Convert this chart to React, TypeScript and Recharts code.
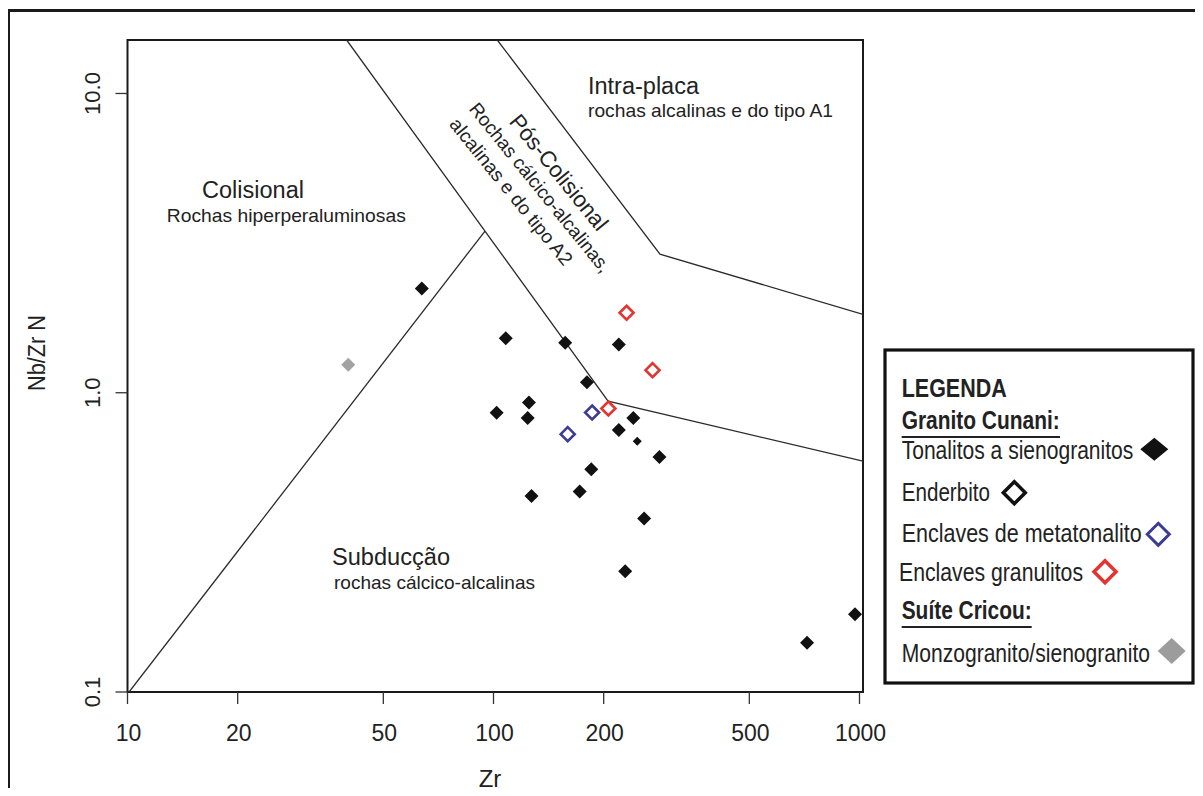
import React from 'react'
import { ScatterChart, Scatter, XAxis, YAxis, ReferenceArea } from 'recharts'

// Zr (ppm) vs Nb/Zr N, both log
const X_TICKS = [10, 20, 50, 100, 200, 500, 1000]
const Y_TICKS = [0.1, 1, 10]
const X_MAX = 1022.3
const Y_MAX = 15.09

// samples [Zr, Nb/Zr N]
const tonalitos: [number, number][] = [
  [63.7, 2.23], [108, 1.52], [157, 1.47], [220, 1.45], [180, 1.085],
  [125, 0.928], [102, 0.857], [124, 0.824], [241, 0.824], [220, 0.751],
  [284, 0.61], [185, 0.555], [127, 0.452], [172, 0.468], [258, 0.38],
  [229, 0.253], [719, 0.146], [972, 0.182],
]
const tonalitosMinor: [number, number][] = [[247, 0.688]]
const granulitos: [number, number][] = [[231, 1.85], [272, 1.19], [206, 0.886]]
const metatonalito: [number, number][] = [[186, 0.859], [159.5, 0.727]]
const cricou: [number, number][] = [[40.1, 1.24]]

// field boundaries
const colisionalBoundary: [number, number][] = [[10.1, 0.1], [94.8, 3.47]]
const posColisionalBoundary: [number, number][] = [[39.7, Y_MAX], [205.6, 0.937], [X_MAX, 0.591]]
const intraPlacaBoundary: [number, number][] = [[102.4, Y_MAX], [285, 2.905], [X_MAX, 1.827]]

const toPts = (arr: [number, number][]) => arr.map(([x, y]) => ({ x, y }))

const FONT = '"Liberation Sans", Arial, Helvetica, sans-serif'

const diamond = (fill: string, stroke: string, r: number, sw: number) => (props: any) => {
  const { cx, cy } = props
  if (cx == null || cy == null) return <g />
  return (
    <path
      d={`M${cx},${cy - r}L${cx + r},${cy}L${cx},${cy + r}L${cx - r},${cy}Z`}
      fill={fill}
      stroke={stroke}
      strokeWidth={sw}
    />
  )
}

const noDot = () => <g />

const XTick = (props: any) => {
  const { x, y, payload } = props
  return (
    <text x={x + 1} y={y} dy={35} textAnchor="middle" fontSize={23} fill="#222" fontFamily={FONT}>
      {payload.value}
    </text>
  )
}

const YTick = (props: any) => {
  const { x, y, payload } = props
  return (
    <text
      transform={`translate(${x - 21.5},${y}) rotate(-90)`}
      textAnchor="middle"
      dominantBaseline="central"
      fontSize={22}
      fill="#222"
      fontFamily={FONT}
    >
      {Number(payload.value).toFixed(1)}
    </text>
  )
}

const legendDiamond = (cx: number, cy: number, rx: number, ry: number, fill: string, stroke: string, sw: number) => (
  <path d={`M${cx},${cy - ry}L${cx + rx},${cy}L${cx},${cy + ry}L${cx - rx},${cy}Z`} fill={fill} stroke={stroke} strokeWidth={sw} />
)

export default function App() {
  const lineStyle = { stroke: '#2a2a2a', strokeWidth: 1.3 }
  return (
    <div style={{ position: 'relative', width: 1203, height: 796, margin: -8, overflow: 'hidden', background: '#fff' }}>
      <div
        style={{
          position: 'absolute', left: 7, top: 9, width: 1194, height: 800,
          border: '3.5px solid #1a1a1a', boxSizing: 'border-box',
        }}
      />
      <div style={{ position: 'absolute', left: 0, top: 0 }}>
        <ScatterChart width={1203} height={796} margin={{ top: 40, right: 340, bottom: 44, left: 0.5 }}>
          <XAxis
            type="number"
            dataKey="x"
            scale="log"
            domain={[10, X_MAX]}
            ticks={X_TICKS}
            interval={0}
            allowDataOverflow
            axisLine={false}
            tickSize={12}
            tickLine={{ stroke: '#333', strokeWidth: 1.3 }}
            tick={<XTick />}
            height={60}
          />
          <YAxis
            type="number"
            dataKey="y"
            scale="log"
            domain={[0.1, Y_MAX]}
            ticks={Y_TICKS}
            interval={0}
            allowDataOverflow
            axisLine={false}
            tickSize={12}
            tickLine={{ stroke: '#333', strokeWidth: 1.3 }}
            tick={<YTick />}
            width={127}
          />
          <ReferenceArea x1={10} x2={X_MAX} y1={0.1} y2={Y_MAX} fill="none" fillOpacity={0} stroke="#1a1a1a" strokeWidth={2} />
          <Scatter data={toPts(colisionalBoundary)} line={lineStyle} shape={noDot} isAnimationActive={false} />
          <Scatter data={toPts(posColisionalBoundary)} line={lineStyle} shape={noDot} isAnimationActive={false} />
          <Scatter data={toPts(intraPlacaBoundary)} line={lineStyle} shape={noDot} isAnimationActive={false} />
          <Scatter data={toPts(cricou)} shape={diamond('#a3a3a3', 'none', 7, 0)} isAnimationActive={false} />
          <Scatter data={toPts(tonalitos)} shape={diamond('#111', 'none', 7, 0)} isAnimationActive={false} />
          <Scatter data={toPts(tonalitosMinor)} shape={diamond('#111', 'none', 4.5, 0)} isAnimationActive={false} />
          <Scatter data={toPts(metatonalito)} shape={diamond('none', '#3c3c94', 7, 2.6)} isAnimationActive={false} />
          <Scatter data={toPts(granulitos)} shape={diamond('none', '#e3342f', 7, 2.6)} isAnimationActive={false} />
        </ScatterChart>
      </div>
      <svg
        width={1203}
        height={796}
        style={{ position: 'absolute', left: 0, top: 0, pointerEvents: 'none' }}
        fontFamily={FONT}
        fill="#222"
      >
        {/* axis titles */}
        <text x={490} y={787} textAnchor="middle" fontSize={24}>Zr</text>
        <text transform="translate(37,353) rotate(-90)" textAnchor="middle" dominantBaseline="central" fontSize={23} textLength={76} lengthAdjust="spacingAndGlyphs">
          Nb/Zr N
        </text>

        {/* field names */}
        <text x={253} y={197.5} textAnchor="middle" fontSize={23.5} textLength={102} lengthAdjust="spacingAndGlyphs">Colisional</text>
        <text x={286.3} y={222} textAnchor="middle" fontSize={19} textLength={239} lengthAdjust="spacingAndGlyphs">Rochas hiperperaluminosas</text>
        <text x={588} y={93.5} fontSize={23.5} textLength={111} lengthAdjust="spacingAndGlyphs">Intra-placa</text>
        <text x={588} y={117} fontSize={19} textLength={245} lengthAdjust="spacingAndGlyphs">rochas alcalinas e do tipo A1</text>
        <text x={332} y={565} fontSize={23.5} textLength={118} lengthAdjust="spacingAndGlyphs">Subducção</text>
        <text x={334} y={588.7} fontSize={19} textLength={201} lengthAdjust="spacingAndGlyphs">rochas cálcico-alcalinas</text>
        <g transform="translate(540,187.5) rotate(51)">
          <text x={0} y={-24} textAnchor="middle" dominantBaseline="central" fontSize={22.5} textLength={142} lengthAdjust="spacingAndGlyphs">Pós-Colisional</text>
          <text x={0} y={0} textAnchor="middle" dominantBaseline="central" fontSize={19} textLength={212} lengthAdjust="spacingAndGlyphs">Rochas cálcico-alcalinas,</text>
          <text x={-15} y={25} textAnchor="middle" dominantBaseline="central" fontSize={19} textLength={183} lengthAdjust="spacingAndGlyphs">alcalinas e do tipo A2</text>
        </g>

        {/* legend */}
        <rect x={885} y={350} width={308} height={333} fill="#fff" stroke="#111" strokeWidth={3.2} />
        <text x={901.7} y={397} fontSize={25} fontWeight="bold" textLength={105} lengthAdjust="spacingAndGlyphs">LEGENDA</text>
        <text x={901.7} y={429} fontSize={25} fontWeight="bold" textLength={158} lengthAdjust="spacingAndGlyphs">Granito Cunani:</text>
        <line x1={901.7} x2={1060} y1={437} y2={437} stroke="#222" strokeWidth={2} />
        <text x={901.7} y={458.5} fontSize={25} textLength={231.6} lengthAdjust="spacingAndGlyphs">Tonalitos a sienogranitos</text>
        {legendDiamond(1154.3, 449.3, 14, 11.5, '#111', 'none', 0)}
        <text x={901.7} y={500.5} fontSize={25} textLength={88.3} lengthAdjust="spacingAndGlyphs">Enderbito</text>
        {legendDiamond(1014.3, 492.7, 11, 11, 'none', '#111', 3.5)}
        <text x={901.7} y={542} fontSize={25} textLength={240} lengthAdjust="spacingAndGlyphs">Enclaves de metatonalito</text>
        {legendDiamond(1158.3, 534.3, 11, 11, 'none', '#3c3c94', 3)}
        <text x={899} y={580.5} fontSize={25} textLength={184} lengthAdjust="spacingAndGlyphs">Enclaves granulitos</text>
        {legendDiamond(1105, 571.7, 11, 11, 'none', '#e3342f', 3.5)}
        <text x={901.7} y={619} fontSize={25} fontWeight="bold" textLength={130} lengthAdjust="spacingAndGlyphs">Suíte Cricou:</text>
        <line x1={901.7} x2={1031.7} y1={627} y2={627} stroke="#222" strokeWidth={2} />
        <text x={901.7} y={662} fontSize={25} textLength={248.3} lengthAdjust="spacingAndGlyphs">Monzogranito/sienogranito</text>
        {legendDiamond(1171.7, 651, 14, 13, '#9c9c9c', 'none', 0)}
      </svg>
    </div>
  )
}
